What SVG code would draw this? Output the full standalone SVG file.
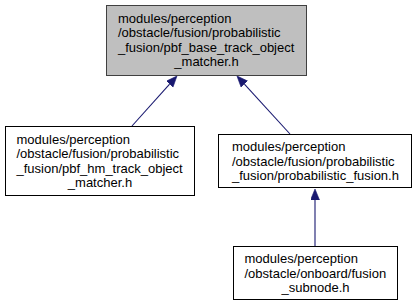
<svg xmlns="http://www.w3.org/2000/svg" width="415" height="307" viewBox="0 0 415 307">
  <style>
    .node rect { fill: #ffffff; stroke: #000000; stroke-width: 1; }
    .node.root rect { fill: #bfbfbf; stroke: #404040; }
    .node text { font-family: "Liberation Sans", Arial, Helvetica, sans-serif; font-size: 13px; fill: #000000; }
    .edge { fill: none; stroke: #191970; stroke-width: 1.1; }
  </style>
  <defs>
    <!-- filled include-arrow head, placed at the end of each connector -->
    <marker id="arrow" markerUnits="userSpaceOnUse" markerWidth="12" markerHeight="10" refX="0" refY="4.5" orient="auto">
      <path d="M0,0 L11,4.5 L0,9 z" fill="#191970" stroke="#191970" stroke-width="0.6"/>
    </marker>
  </defs>
  <rect width="415" height="307" fill="#ffffff"/>

  <g id="connectors">
    <path class="edge" d="M132,126 L169.6,84.2" marker-end="url(#arrow)"/>
    <path class="edge" d="M290,134 L244.4,84.1" marker-end="url(#arrow)"/>
    <path class="edge" d="M315,246 L315,200" marker-end="url(#arrow)"/>
  </g>

  <g id="pbf_base_track_object_matcher" class="node root">
    <rect x="106.5" y="5.5" width="200" height="70"/>
    <text x="118" y="22.5">modules/perception</text>
    <text x="118" y="37">/obstacle/fusion/probabilistic</text>
    <text x="118" y="51.5">_fusion/pbf_base_track_object</text>
    <text x="206.5" y="66" text-anchor="middle">_matcher.h</text>
  </g>

  <g id="pbf_hm_track_object_matcher" class="node">
    <rect x="5.5" y="126.5" width="189" height="69"/>
    <text x="16.5" y="143.5">modules/perception</text>
    <text x="16.5" y="158">/obstacle/fusion/probabilistic</text>
    <text x="16.5" y="172.5">_fusion/pbf_hm_track_object</text>
    <text x="100" y="187" text-anchor="middle">_matcher.h</text>
  </g>

  <g id="probabilistic_fusion" class="node">
    <rect x="218.5" y="134.5" width="193" height="53"/>
    <text x="232" y="151">modules/perception</text>
    <text x="232" y="165.5">/obstacle/fusion/probabilistic</text>
    <text x="232" y="180">_fusion/probabilistic_fusion.h</text>
  </g>

  <g id="fusion_subnode" class="node">
    <rect x="233.5" y="246.5" width="164" height="53"/>
    <text x="244.5" y="263">modules/perception</text>
    <text x="244.5" y="277.5">/obstacle/onboard/fusion</text>
    <text x="315.5" y="292" text-anchor="middle">_subnode.h</text>
  </g>
</svg>
